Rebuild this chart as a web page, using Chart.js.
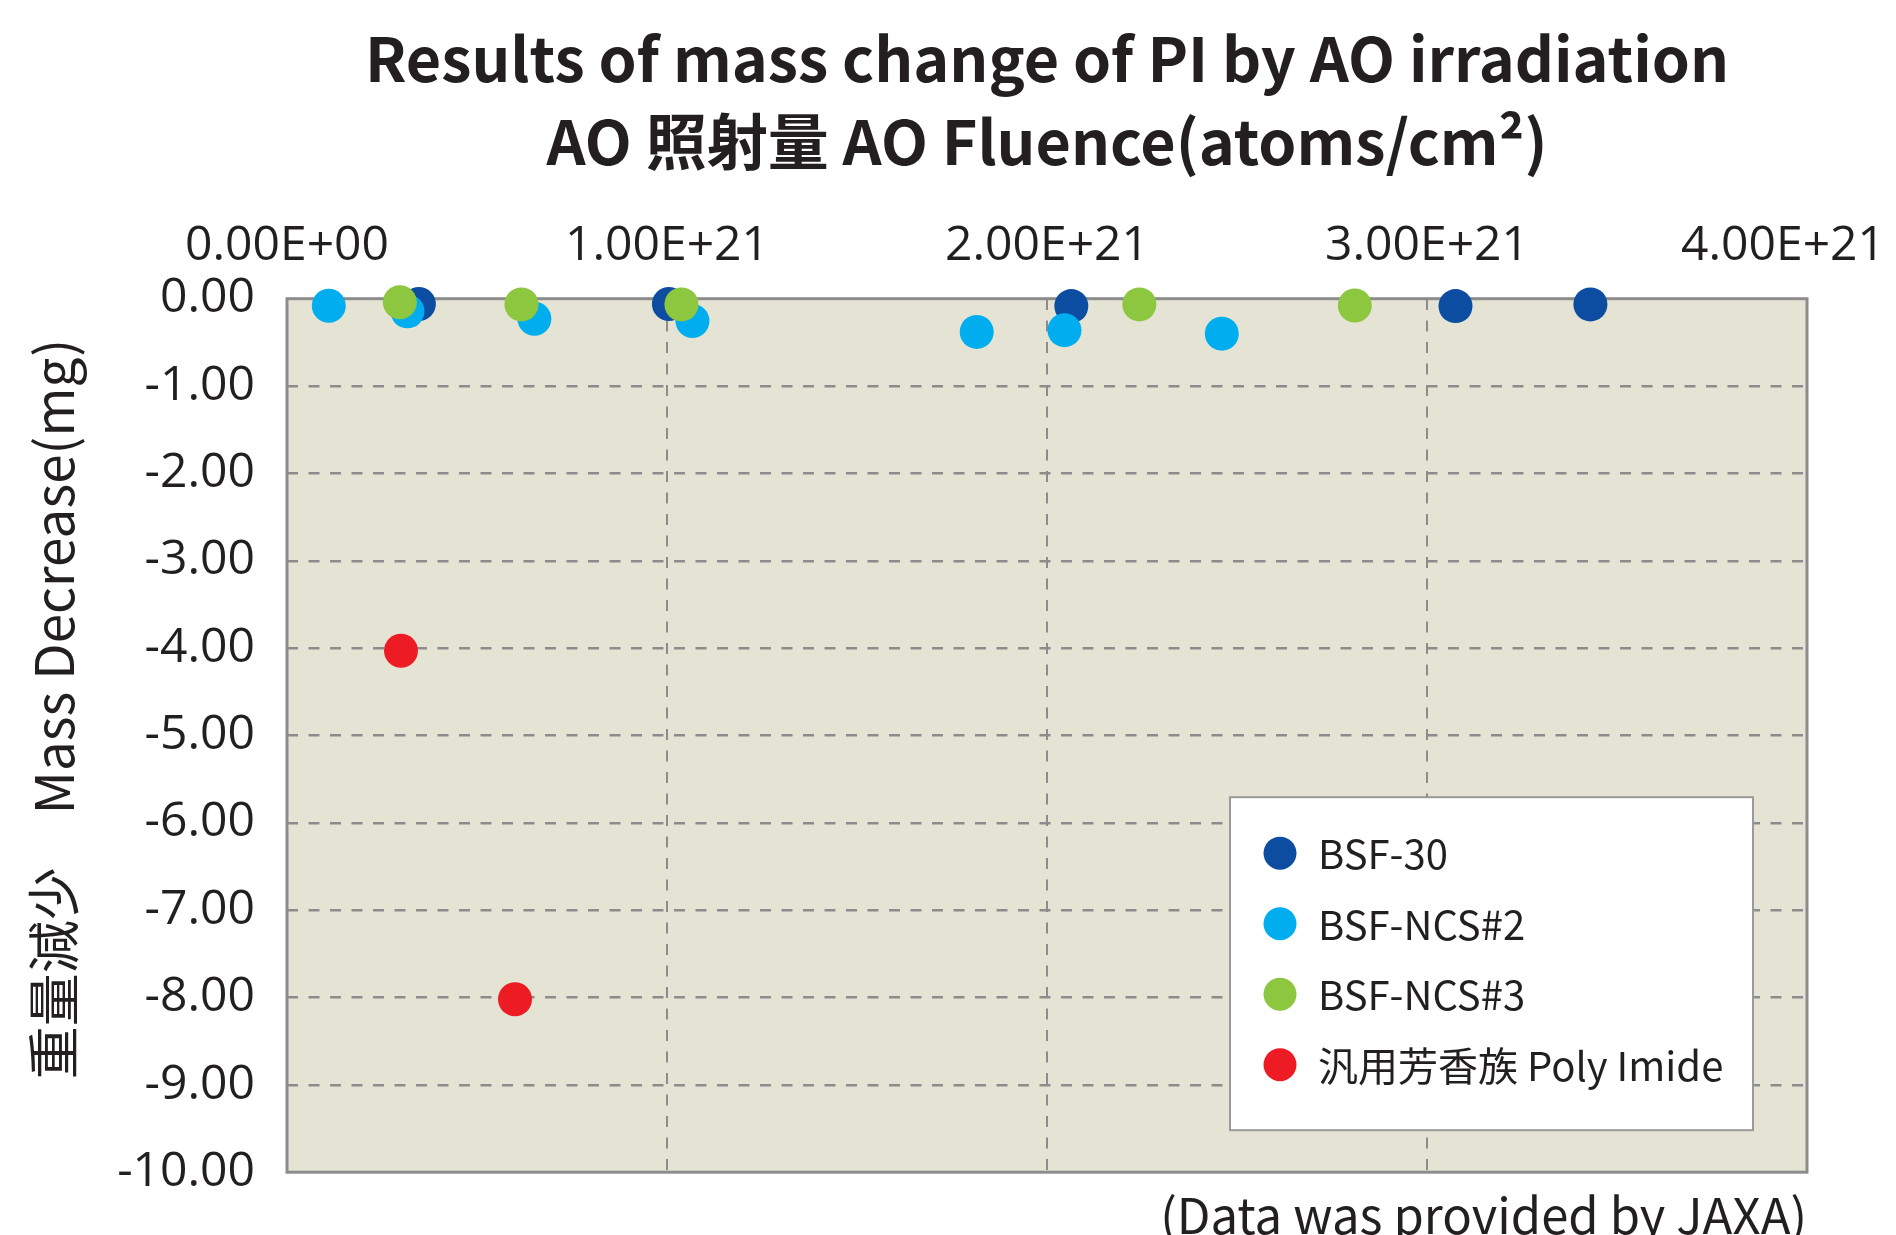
<!DOCTYPE html>
<html>
<head>
<meta charset="utf-8">
<script src="https://cdn.jsdelivr.net/npm/chart.js@4.4.1/dist/chart.umd.min.js"></script>
<style>
    html, body { margin: 0; padding: 0; background: #fff; }
    #wrap { width: 1896px; height: 1235px; }
</style>
</head>
<body>
<div id="wrap"><canvas id="massChart" width="1896" height="1235"></canvas></div>
<script>
var seriesNames = ['BSF-30', 'BSF-NCS#2', 'BSF-NCS#3', '汎用芳香族 Poly Imide'];
var seriesColors = ['#0c4da2', '#00aeef', '#8dc63f', '#ed1c24'];

// AO fluence (atoms/cm2) and mass change (mg) per material
var bsf30X = [3.47e20, 1.005e21, 2.064e21, 3.075e21, 3.43e21];
var bsf30Y = [-0.06, -0.06, -0.085, -0.085, -0.065];
var ncs2X = [1.10e20, 3.17e20, 6.51e20, 1.067e21, 1.815e21, 2.046e21, 2.46e21];
var ncs2Y = [-0.08, -0.145, -0.23, -0.255, -0.38, -0.36, -0.40];
var ncs3X = [2.97e20, 6.17e20, 1.038e21, 2.243e21, 2.81e21];
var ncs3Y = [-0.04, -0.065, -0.065, -0.065, -0.077];
var polyX = [3.0e20, 6.0e20];
var polyY = [-4.03, -8.02];

var xTickValues = [0, 1e21, 2e21, 3e21, 4e21];
var xTickLabels = ['0.00E+00', '1.00E+21', '2.00E+21', '3.00E+21', '4.00E+21'];
var yTickValues = [-10, -9, -8, -7, -6, -5, -4, -3, -2, -1, 0];
var yTickLabels = ['-10.00', '-9.00', '-8.00', '-7.00', '-6.00', '-5.00', '-4.00', '-3.00', '-2.00', '-1.00', '0.00'];

var cjkFont = '"Noto Sans CJK JP", "Noto Sans", sans-serif';
var tickFont = '"Open Sans", "Noto Sans", sans-serif';
var textColor = '#231f20';
var gridColor = '#8c8c8c';

function points(xs, ys) {
    return xs.map(function (x, i) { return { x: x, y: ys[i] }; });
}

var plotFrame = {
    id: 'plotFrame',
    beforeDraw: function (chart) {
        var a = chart.chartArea, ctx = chart.ctx;
        ctx.save();
        ctx.fillStyle = '#e5e4d4';
        ctx.fillRect(a.left, a.top, a.right - a.left, a.bottom - a.top);
        ctx.restore();
    },
    beforeDatasetsDraw: function (chart) {
        var a = chart.chartArea, ctx = chart.ctx;
        ctx.save();
        ctx.strokeStyle = gridColor;
        ctx.lineWidth = 3;
        ctx.strokeRect(a.left, a.top, a.right - a.left, a.bottom - a.top);
        ctx.restore();
    },
    afterDraw: function (chart) {
        var a = chart.chartArea, ctx = chart.ctx;
        var bx = a.right - 577, by = a.bottom - 375, bw = 523, bh = 333;
        ctx.save();
        ctx.fillStyle = '#fff';
        ctx.fillRect(bx, by, bw, bh);
        ctx.strokeStyle = '#9a9a9a';
        ctx.lineWidth = 2;
        ctx.strokeRect(bx, by, bw, bh);
        ctx.font = '40px ' + cjkFont;
        ctx.textBaseline = 'middle';
        ctx.textAlign = 'left';
        chart.data.datasets.forEach(function (ds, i) {
            var y = by + 56 + i * 70.5;
            ctx.fillStyle = ds.backgroundColor;
            ctx.beginPath();
            ctx.arc(bx + 50, y, 16.5, 0, Math.PI * 2);
            ctx.fill();
            ctx.fillStyle = textColor;
            ctx.fillText(ds.label, bx + 88, y + 1);
        });
        ctx.restore();
    }
};

var datasets = [
    { label: seriesNames[0], data: points(bsf30X, bsf30Y), order: 4 },
    { label: seriesNames[1], data: points(ncs2X, ncs2Y), order: 3 },
    { label: seriesNames[2], data: points(ncs3X, ncs3Y), order: 2 },
    { label: seriesNames[3], data: points(polyX, polyY), order: 1 }
].map(function (ds, i) {
    ds.backgroundColor = seriesColors[i];
    ds.borderWidth = 0;
    ds.pointRadius = 17;
    ds.pointHoverRadius = 17;
    ds.clip = false;
    return ds;
});

new Chart(document.getElementById('massChart'), {
    type: 'scatter',
    data: { datasets: datasets },
    plugins: [plotFrame],
    options: {
        responsive: false,
        animation: false,
        events: [],
        layout: { padding: { left: 22, right: 89, top: 0, bottom: 0 } },
        plugins: {
            legend: { display: false },
            tooltip: { enabled: false },
            title: {
                display: true,
                fullSize: false,
                text: ['Results of mass change of PI by AO irradiation', 'AO 照射量 AO Fluence(atoms/cm²)'],
                color: textColor,
                font: { family: cjkFont, size: 61, weight: 'bold', lineHeight: 1.35 },
                padding: { top: 18, bottom: 0 }
            },
            subtitle: {
                display: true,
                position: 'bottom',
                align: 'end',
                fullSize: false,
                text: '(Data was provided by JAXA)',
                color: textColor,
                font: { family: cjkFont, size: 49, lineHeight: 1.2 },
                padding: { top: 14, bottom: -10 }
            }
        },
        scales: {
            x: {
                type: 'linear',
                position: 'top',
                min: 0,
                max: 4e21,
                afterBuildTicks: function (s) {
                    s.ticks = xTickValues.map(function (v) { return { value: v }; });
                },
                afterFit: function (s) {
                    s.height = 116;
                    s.paddingRight = 0;
                    s.paddingLeft = 0;
                },
                ticks: {
                    color: textColor,
                    font: { family: tickFont, size: 48 },
                    padding: 24,
                    maxRotation: 0,
                    callback: function (v, i) {
                        return i === xTickLabels.length - 1 ? xTickLabels[i] + '\u2003' : xTickLabels[i];
                    }
                },
                grid: {
                    drawTicks: false,
                    lineWidth: 2,
                    color: function (c) {
                        return (c.tick && (c.tick.value === 0 || c.tick.value === 4e21)) ? 'rgba(0,0,0,0)' : gridColor;
                    }
                },
                border: { display: false, dash: [11, 10.5] }
            },
            y: {
                type: 'linear',
                min: -10,
                max: 0,
                afterBuildTicks: function (s) {
                    s.ticks = yTickValues.map(function (v) { return { value: v }; });
                },
                afterFit: function (s) {
                    s.width = 265;
                },
                title: {
                    display: true,
                    text: '\u3000重量減少\u3000Mass Decrease(mg)',
                    color: textColor,
                    font: { family: cjkFont, size: 53, lineHeight: 1.2 },
                    padding: { top: 0, bottom: 0 }
                },
                ticks: {
                    color: textColor,
                    font: { family: tickFont, size: 48 },
                    padding: 32,
                    callback: function (v, i) { return yTickLabels[i]; }
                },
                grid: {
                    drawTicks: false,
                    lineWidth: 2.5,
                    color: function (c) {
                        return (c.tick && (c.tick.value === 0 || c.tick.value === -10)) ? 'rgba(0,0,0,0)' : gridColor;
                    }
                },
                border: { display: false, dash: [11, 10.5] }
            }
        }
    }
});
</script>
</body>
</html>
